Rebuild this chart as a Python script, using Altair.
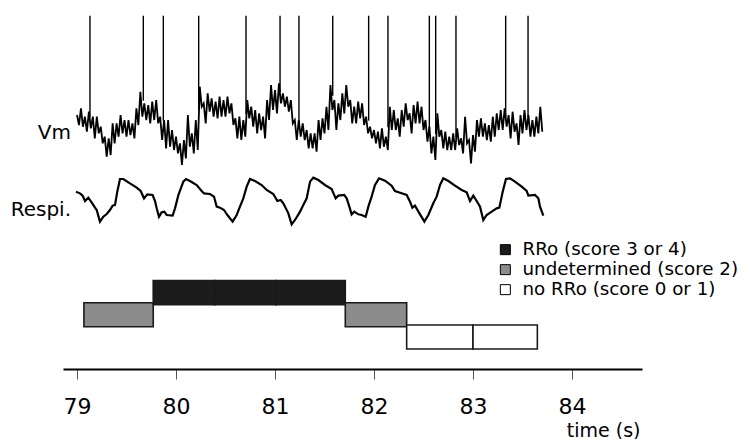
import altair as alt
import pandas as pd

# ---------------- data ----------------
# membrane potential (mV): upper / lower edge of the noisy trace, one pair every 0.04 s from 79.00 s
vm_start = 79.00
vm_step = 0.04
vm_hi = [-44.6, -40.6, -45.6, -42.6, -45.6, -45.6, -51.6, -57.6, -58.6, -49.6,
         -49.6, -44.6, -47.6, -47.6, -49.6, -40.6, -30.6, -37.6, -38.6, -36.6,
         -35.6, -45.6, -47.6, -47.6, -53.6, -57.6, -61.6, -59.6, -44.6, -55.6,
         -47.6, -27.6, -37.6, -31.6, -34.6, -36.6, -33.6, -35.6, -33.6, -37.6,
         -46.6, -45.6, -47.6, -35.6, -39.6, -41.6, -43.6, -45.6, -35.6, -26.6,
         -29.6, -25.6, -31.6, -33.6, -35.6, -47.6, -47.6, -49.6, -53.6, -55.6,
         -55.6, -47.6, -46.6, -39.6, -26.6, -35.6, -37.6, -31.6, -26.6, -35.6,
         -39.6, -36.6, -37.6, -45.6, -51.6, -53.6, -54.6, -52.6, -57.6, -39.6,
         -41.6, -46.6, -41.6, -37.6, -43.6, -38.6, -36.6, -39.6, -47.6, -51.6,
         -57.6, -43.6, -53.6, -54.6, -57.6, -55.6, -52.6, -58.6, -45.6, -59.6,
         -56.6, -47.6, -46.6, -49.6, -50.6, -45.6, -43.6, -41.6, -40.6, -44.6,
         -42.6, -49.6, -44.6, -41.6, -44.6, -47.6, -45.6, -39.6]
vm_lo = [-50.6, -51.6, -54.6, -52.6, -58.6, -55.6, -61.6, -69.6, -68.6, -61.6,
         -57.6, -55.6, -57.6, -56.6, -58.6, -50.6, -45.6, -47.6, -49.6, -47.6,
         -49.6, -59.6, -64.6, -63.6, -65.6, -67.6, -74.6, -70.6, -63.6, -67.6,
         -65.6, -39.6, -49.6, -42.6, -45.6, -46.6, -45.6, -45.6, -43.6, -50.6,
         -58.6, -59.6, -57.6, -46.6, -51.6, -55.6, -53.6, -58.6, -47.6, -41.6,
         -43.6, -37.6, -39.6, -42.6, -49.6, -59.6, -57.6, -59.6, -64.6, -64.6,
         -66.6, -59.6, -55.6, -53.6, -41.6, -53.6, -47.6, -43.6, -39.6, -49.6,
         -49.6, -46.6, -50.6, -55.6, -58.6, -61.6, -64.6, -63.6, -65.6, -53.6,
         -53.6, -57.6, -51.6, -47.6, -55.6, -49.6, -49.6, -53.6, -60.6, -67.6,
         -71.6, -57.6, -64.6, -65.6, -65.6, -65.6, -62.6, -67.6, -61.6, -73.6,
         -66.6, -57.6, -57.6, -59.6, -60.6, -57.6, -53.6, -53.6, -51.6, -58.6,
         -54.6, -62.6, -55.6, -53.6, -57.6, -57.6, -55.6, -54.6]

# action potentials: time (s), foot of the spike (mV), peak (mV)
spike_t = [79.131, 79.670, 79.872, 80.229, 80.707, 81.051, 81.242, 81.583,
           81.946, 82.141, 82.559, 82.623, 82.828, 83.330, 83.556]
spike_base = [-46, -36, -48, -42, -44, -31, -50, -33, -48, -52, -54, -56, -58, -46, -46]
spike_peak = 15

# respiration (a.u.)
resp_t = [78.990, 79.030, 79.057, 79.081, 79.114, 79.148, 79.182, 79.199, 79.232, 79.266,
          79.300, 79.333, 79.360, 79.384, 79.407, 79.434, 79.468, 79.535, 79.603, 79.643,
          79.677, 79.710, 79.764, 79.788, 79.805, 79.828, 79.855, 79.882, 79.906, 79.966,
          79.990, 80.024, 80.074, 80.101, 80.141, 80.209, 80.259, 80.283, 80.343, 80.384,
          80.411, 80.444, 80.485, 80.519, 80.572, 80.613, 80.646, 80.680, 80.714, 80.747,
          80.798, 80.865, 80.916, 80.983, 81.024, 81.057, 81.084, 81.135, 81.168, 81.202,
          81.253, 81.286, 81.320,
          81.354, 81.387, 81.438, 81.505, 81.572, 81.613, 81.640, 81.700, 81.724, 81.751,
          81.774, 81.801, 81.842, 81.875, 81.916, 81.943, 81.976, 82.010, 82.051, 82.111,
          82.178, 82.212, 82.279, 82.330, 82.364, 82.387, 82.414, 82.465, 82.509, 82.549,
          82.599, 82.633, 82.667, 82.700, 82.751, 82.818, 82.886, 82.936, 82.970, 83.003,
          83.037, 83.071, 83.104, 83.138, 83.189, 83.239, 83.266, 83.300, 83.333, 83.374,
          83.424, 83.492, 83.542, 83.559, 83.626, 83.660, 83.677, 83.710]
resp_v = [1.00, 0.95, 0.88, 0.72, 0.82, 0.68, 0.52, 0.45, 0.10, 0.25,
          0.33, 0.45, 0.58, 0.60, 1.00, 1.38, 1.38, 1.25, 1.12, 1.02,
          0.80, 0.92, 0.90, 0.72, 0.50, 0.25, 0.38, 0.40, 0.30, 0.28,
          0.50, 0.90, 1.30, 1.38, 1.32, 1.20, 1.02, 0.95, 0.93, 0.85,
          0.55, 0.52, 0.45, 0.30, 0.10, 0.30, 0.55, 0.80, 1.15, 1.38,
          1.32, 1.20, 1.05, 0.93, 0.72, 0.75, 0.65, 0.35, 0.02, 0.15,
          0.40, 0.60, 0.80,
          1.30, 1.42, 1.35, 1.20, 1.08, 0.80, 0.88, 0.90, 0.80, 0.55,
          0.32, 0.40, 0.32, 0.30, 0.25, 0.55, 0.85, 1.20, 1.40, 1.33,
          1.18, 1.02, 0.95, 0.90, 0.70, 0.52, 0.58, 0.32, 0.10, 0.30,
          0.65, 0.85, 1.20, 1.40, 1.32, 1.18, 1.05, 0.98, 0.72, 0.88,
          0.72, 0.55, 0.15, 0.30, 0.40, 0.50, 0.52, 1.00, 1.38, 1.40,
          1.30, 1.15, 1.02, 0.88, 0.90, 0.80, 0.55, 0.28]

# scoring of each window
seg_start = [79.07, 79.77, 80.39, 81.01, 81.71, 82.33, 83.00]
seg_end = [79.77, 80.39, 81.01, 81.71, 82.33, 83.00, 83.65]
class_names = ["RRo (score 3 or 4)", "undetermined (score 2)", "no RRo (score 0 or 1)"]
class_colors = ["#1c1c1c", "#8c8c8c", "#ffffff"]
class_level = [3, 2, 1]
seg_class = [class_names[1], class_names[0], class_names[0], class_names[0],
             class_names[1], class_names[2], class_names[2]]

tick_values = [79, 80, 81, 82, 83, 84]
x_domain = [78.8586, 84.7071]

# ---------------- tables ----------------
vm_rows = []
for i, (hi, lo) in enumerate(zip(vm_hi, vm_lo)):
    vm_rows.append({"t": vm_start + i * vm_step, "v": hi})
    vm_rows.append({"t": vm_start + i * vm_step + vm_step / 2, "v": lo})
vm_df = pd.DataFrame(vm_rows)

spike_df = pd.DataFrame({"t": spike_t, "base": spike_base, "peak": [spike_peak] * len(spike_t)})
resp_df = pd.DataFrame({"t": resp_t[:len(resp_v)], "r": resp_v[:len(resp_t)]})

lvl = dict(zip(class_names, class_level))
bar_df = pd.DataFrame({
    "start": seg_start, "end": seg_end, "cls": seg_class,
    "top": [lvl[c] + 0.54 for c in seg_class],
    "bottom": [lvl[c] - 0.54 for c in seg_class],
})

lab_vm = pd.DataFrame({"t": [79.0], "v": [-59.0], "txt": ["Vm"]})
lab_resp = pd.DataFrame({"t": [79.0], "r": [0.27], "txt": ["Respi."]})

# ---------------- scales ----------------
FONT = "DejaVu Sans"

xscale = alt.Scale(domain=x_domain, nice=False, zero=False)
xaxis = alt.Axis(values=tick_values, format="d", grid=False,
                 domainColor="black", domainWidth=2,
                 tickColor="#555555", tickWidth=1, tickSize=10,
                 labelFont=FONT, labelFontSize=22, labelColor="black",
                 labelBaseline="alphabetic", labelPadding=34, labelFlush=False,
                 title="time (s)", titleFont=FONT, titleFontSize=19,
                 titleFontWeight="normal", titleColor="black",
                 titleAlign="right", titleBaseline="alphabetic",
                 titleX=577, titleY=67)
X = lambda f: alt.X(f, type="quantitative", scale=xscale, axis=xaxis)

vm_scale = alt.Scale(domain=[-90, 20], range=[182.7, -0.63], nice=False, zero=False)
resp_scale = alt.Scale(domain=[0, 1.5], range=[217, 167], nice=False, zero=False)
bar_scale = alt.Scale(domain=[0, 4], range=[351.2, 262.4], nice=False, zero=False)

vm_line = alt.Chart(vm_df).mark_line(color="black", strokeWidth=1.8).encode(
    x=X("t"), y=alt.Y("v:Q", scale=vm_scale, axis=None))
spikes = alt.Chart(spike_df).mark_rule(color="black", strokeWidth=1.4).encode(
    x=X("t"), y=alt.Y("peak:Q", scale=vm_scale, axis=None), y2="base:Q")
resp = alt.Chart(resp_df).mark_line(color="black", strokeWidth=2.2).encode(
    x=X("t"), y=alt.Y("r:Q", scale=resp_scale, axis=None))
bars = alt.Chart(bar_df).mark_rect(stroke="#1a1a1a", strokeWidth=1.6).encode(
    x=X("start"), x2="end:Q",
    y=alt.Y("top:Q", scale=bar_scale, axis=None), y2="bottom:Q",
    fill=alt.Fill("cls:N", scale=alt.Scale(domain=class_names, range=class_colors),
                  legend=alt.Legend(orient="none", legendX=433.2, legendY=232.5,
                                    title=None, symbolType="square", symbolSize=100,
                                    symbolStrokeColor="black", symbolStrokeWidth=1,
                                    labelFont=FONT, labelFontSize=18.3,
                                    labelColor="black", labelOffset=8,
                                    labelLimit=400, rowPadding=1, padding=0)))
t_vm = alt.Chart(lab_vm).mark_text(align="right", baseline="alphabetic", dx=-6,
                                   font=FONT, fontSize=20, color="black").encode(
    x=X("t"), y=alt.Y("v:Q", scale=vm_scale, axis=None), text="txt:N")
t_resp = alt.Chart(lab_resp).mark_text(align="right", baseline="alphabetic", dx=-6,
                                       font=FONT, fontSize=20, color="black").encode(
    x=X("t"), y=alt.Y("r:Q", scale=resp_scale, axis=None), text="txt:N")

chart = alt.layer(bars, resp, vm_line, spikes, t_vm, t_resp).resolve_scale(
    y="independent"
).properties(
    width=579, height=361,
    padding={"left": 55, "top": 0, "right": 100, "bottom": 70},
    autosize=alt.AutoSizeParams(type="none"),
    background="white",
).configure_view(stroke=None)

chart.save("out.html", embed_options={"renderer": "svg", "actions": False})
